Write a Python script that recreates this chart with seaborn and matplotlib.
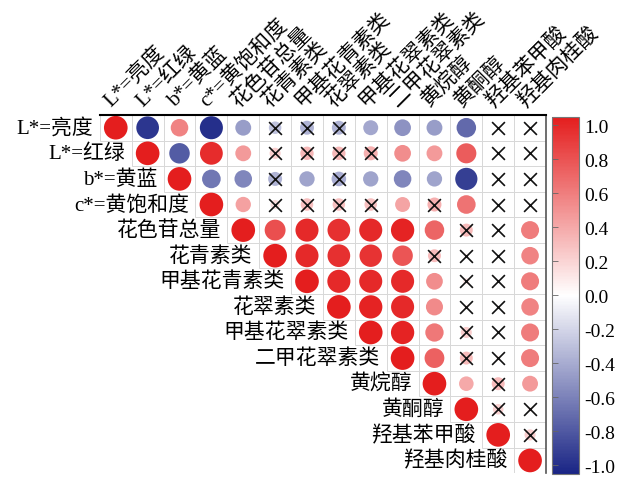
import numpy as np
import pandas as pd
import matplotlib
matplotlib.use('Agg')
import matplotlib.pyplot as plt
from matplotlib.colors import LinearSegmentedColormap, Normalize
from matplotlib.patches import Rectangle
import seaborn as sns

# ── DATA ──────────────────────────────────────────────────────────────────────
labels = ['L*=亮度', 'L*=红绿', 'b*=黄蓝', 'c*=黄饱和度', '花色苷总量', '花青素类',
          '甲基花青素类', '花翠素类', '甲基花翠素类', '二甲花翠素类', '黄烷醇',
          '黄酮醇', '羟基苯甲酸', '羟基肉桂酸']

# upper triangle, each row starts at the diagonal
corr_rows = [
    [1.00, -0.92, 0.55, -0.95, -0.45, -0.28, -0.35, -0.35, -0.40, -0.50, -0.45, -0.68, 0.03, 0.03],
    [1.00, -0.75, 0.93, 0.45, 0.22, 0.32, 0.32, 0.35, 0.50, 0.45, 0.72, 0.03, 0.03],
    [1.00, -0.62, -0.55, -0.35, -0.42, -0.38, -0.42, -0.55, -0.42, -0.88, 0.02, 0.02],
    [1.00, 0.42, 0.15, 0.28, 0.28, 0.28, 0.40, 0.35, 0.62, 0.03, 0.03],
    [1.00, 0.78, 0.95, 0.92, 0.95, 0.97, 0.68, 0.30, 0.03, 0.58],
    [1.00, 0.95, 0.92, 0.90, 0.75, 0.30, 0.05, 0.03, 0.55],
    [1.00, 0.95, 0.95, 0.95, 0.50, 0.08, 0.03, 0.58],
    [1.00, 0.97, 0.95, 0.52, 0.05, 0.03, 0.55],
    [1.00, 0.97, 0.60, 0.22, 0.03, 0.58],
    [1.00, 0.70, 0.30, 0.05, 0.58],
    [1.00, 0.38, 0.30, 0.45],
    [1.00, 0.20, 0.05],
    [1.00, 0.22],
    [1.00],
]

# non-significant cells (row, col) marked with a cross
nonsig = [(0, 5), (0, 6), (0, 7), (0, 12), (0, 13),
          (1, 5), (1, 6), (1, 7), (1, 8), (1, 12), (1, 13),
          (2, 5), (2, 7), (2, 12), (2, 13),
          (3, 5), (3, 6), (3, 7), (3, 8), (3, 10), (3, 12), (3, 13),
          (4, 11), (4, 12),
          (5, 10), (5, 11), (5, 12),
          (6, 11), (6, 12),
          (7, 11), (7, 12),
          (8, 11), (8, 12),
          (9, 11), (9, 12),
          (10, 12),
          (11, 12), (11, 13),
          (12, 13)]

cbar_ticks = [1.0, 0.8, 0.6, 0.4, 0.2, 0.0, -0.2, -0.4, -0.6, -0.8, -1.0]

# ── BUILD LONG TABLE ──────────────────────────────────────────────────────────
n = len(labels)
recs = []
for i, row in enumerate(corr_rows):
    for k, r in enumerate(row):
        recs.append({'row': i, 'col': i + k, 'r': r, 'absr': abs(r)})
cells = pd.DataFrame(recs)
ns = pd.DataFrame(nonsig, columns=['row', 'col'])

# ── PLOT ──────────────────────────────────────────────────────────────────────
plt.rcParams['font.family'] = ['Liberation Serif', 'Noto Sans CJK SC']
plt.rcParams['axes.unicode_minus'] = False

cmap = LinearSegmentedColormap.from_list('bwr_custom', ['#1a2585', '#ffffff', '#e41e1e'])

fig = plt.figure(figsize=(6.24, 4.81), dpi=100)
ax = fig.add_axes([0.160, 0.014, 0.715, 0.745])

# light grid around upper-triangle cells
for i in range(n):
    for j in range(i, n):
        ax.add_patch(Rectangle((j - 0.5, i - 0.5), 1, 1, fill=False,
                               edgecolor='#d8d8d8', lw=0.7, zorder=1))

sns.scatterplot(data=cells, x='col', y='row', hue='r', palette=cmap,
                hue_norm=(-1, 1), size='absr', sizes=(0, 290), size_norm=(0, 1),
                edgecolor='none', legend=False, ax=ax, zorder=2)
sns.scatterplot(data=ns, x='col', y='row', marker='x', color='#111111',
                s=85, linewidth=1.2, legend=False, ax=ax, zorder=3)

ax.set_xlim(-0.5, n - 0.5)
ax.set_ylim(n - 0.5, -0.5)
ax.set_xticks([])
ax.set_yticks([])
ax.set_xlabel('')
ax.set_ylabel('')
for s in ['left', 'bottom']:
    ax.spines[s].set_visible(False)
ax.spines['top'].set_color('black')
ax.spines['top'].set_linewidth(1.5)
ax.spines['right'].set_color('#555555')
ax.spines['right'].set_linewidth(1.2)

# row labels, right-aligned to the left of the diagonal
for i, lab in enumerate(labels):
    ax.text(i - 0.7, i, lab, ha='right', va='center', fontsize=15)

# column labels, rotated 45 degrees above the top edge
for j, lab in enumerate(labels):
    ax.text(j - 0.05, -0.68, lab, ha='left', va='bottom', rotation=45,
            rotation_mode='anchor', fontsize=15)

# colorbar (slightly padded so the end ticks sit inside the bar)
cax = fig.add_axes([0.884, 0.013, 0.044, 0.742])
sm = plt.cm.ScalarMappable(cmap=cmap, norm=Normalize(-1.05, 1.05))
cb = fig.colorbar(sm, cax=cax, ticks=cbar_ticks)
cb.ax.set_yticklabels([f'{t:.1f}' for t in cbar_ticks])
cb.outline.set_edgecolor('#777777')
cb.outline.set_linewidth(0.8)
cax.tick_params(left=True, right=False, direction='in', length=4, width=0.6,
                color='#666666', labelleft=False, labelright=True, labelsize=14, pad=4)

fig.savefig('out.png', dpi=100)
